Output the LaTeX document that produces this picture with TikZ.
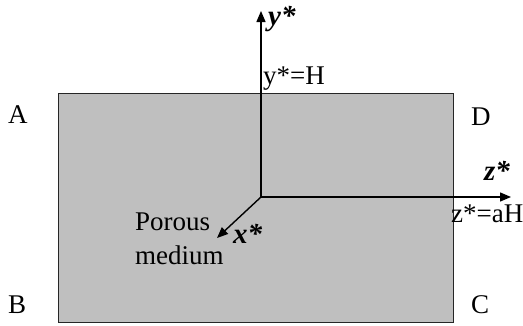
\documentclass[tikz,border=0pt]{standalone}
\usepackage{fontspec}
\setmainfont{Liberation Serif}
\usetikzlibrary{arrows.meta}
\begin{document}
\begin{tikzpicture}[x=1pt,y=-1pt,
  lbl/.style={inner sep=0pt,anchor=base west,font=\fontsize{27}{32}\selectfont},
  axlbl/.style={lbl,font=\fontsize{29}{34}\selectfont\bfseries\itshape},
  axis/.style={line width=1.4pt,-{Triangle[length=11pt,width=9pt]}}]
\useasboundingbox (0,0) rectangle (523,325);
\node (box) [draw=black!85,line width=1.4pt,fill=black!25,minimum width=395pt,minimum height=229pt,inner sep=0pt,anchor=north west] at (58,93) {};
\coordinate (O) at (261,197);
\coordinate (ytip) at (261,11);
\coordinate (ztip) at (511,197);
\coordinate (xtip) at (217,238);
\draw[axis] (O) -- (ytip);
\draw[axis] (O) -- (ztip);
\draw[axis] (O) -- (xtip);
\node (ylab) [axlbl] at (268,25) {y*};
\node (yH) [lbl] at (263,84) {y*=H};
\node (zlab) [axlbl] at (484,180) {z*};
\node (zH) [lbl] at (451,222) {z*=aH};
\node (xlab) [axlbl] at (233,243) {x*};
\node (porous) [lbl] at (135,230) {Porous};
\node (medium) [lbl] at (135,264) {medium};
\node (A) [lbl] at (8,123) {A};
\node (D) [lbl] at (471,125) {D};
\node (B) [lbl] at (8,313) {B};
\node (C) [lbl] at (471,313) {C};
\end{tikzpicture}
\end{document}
